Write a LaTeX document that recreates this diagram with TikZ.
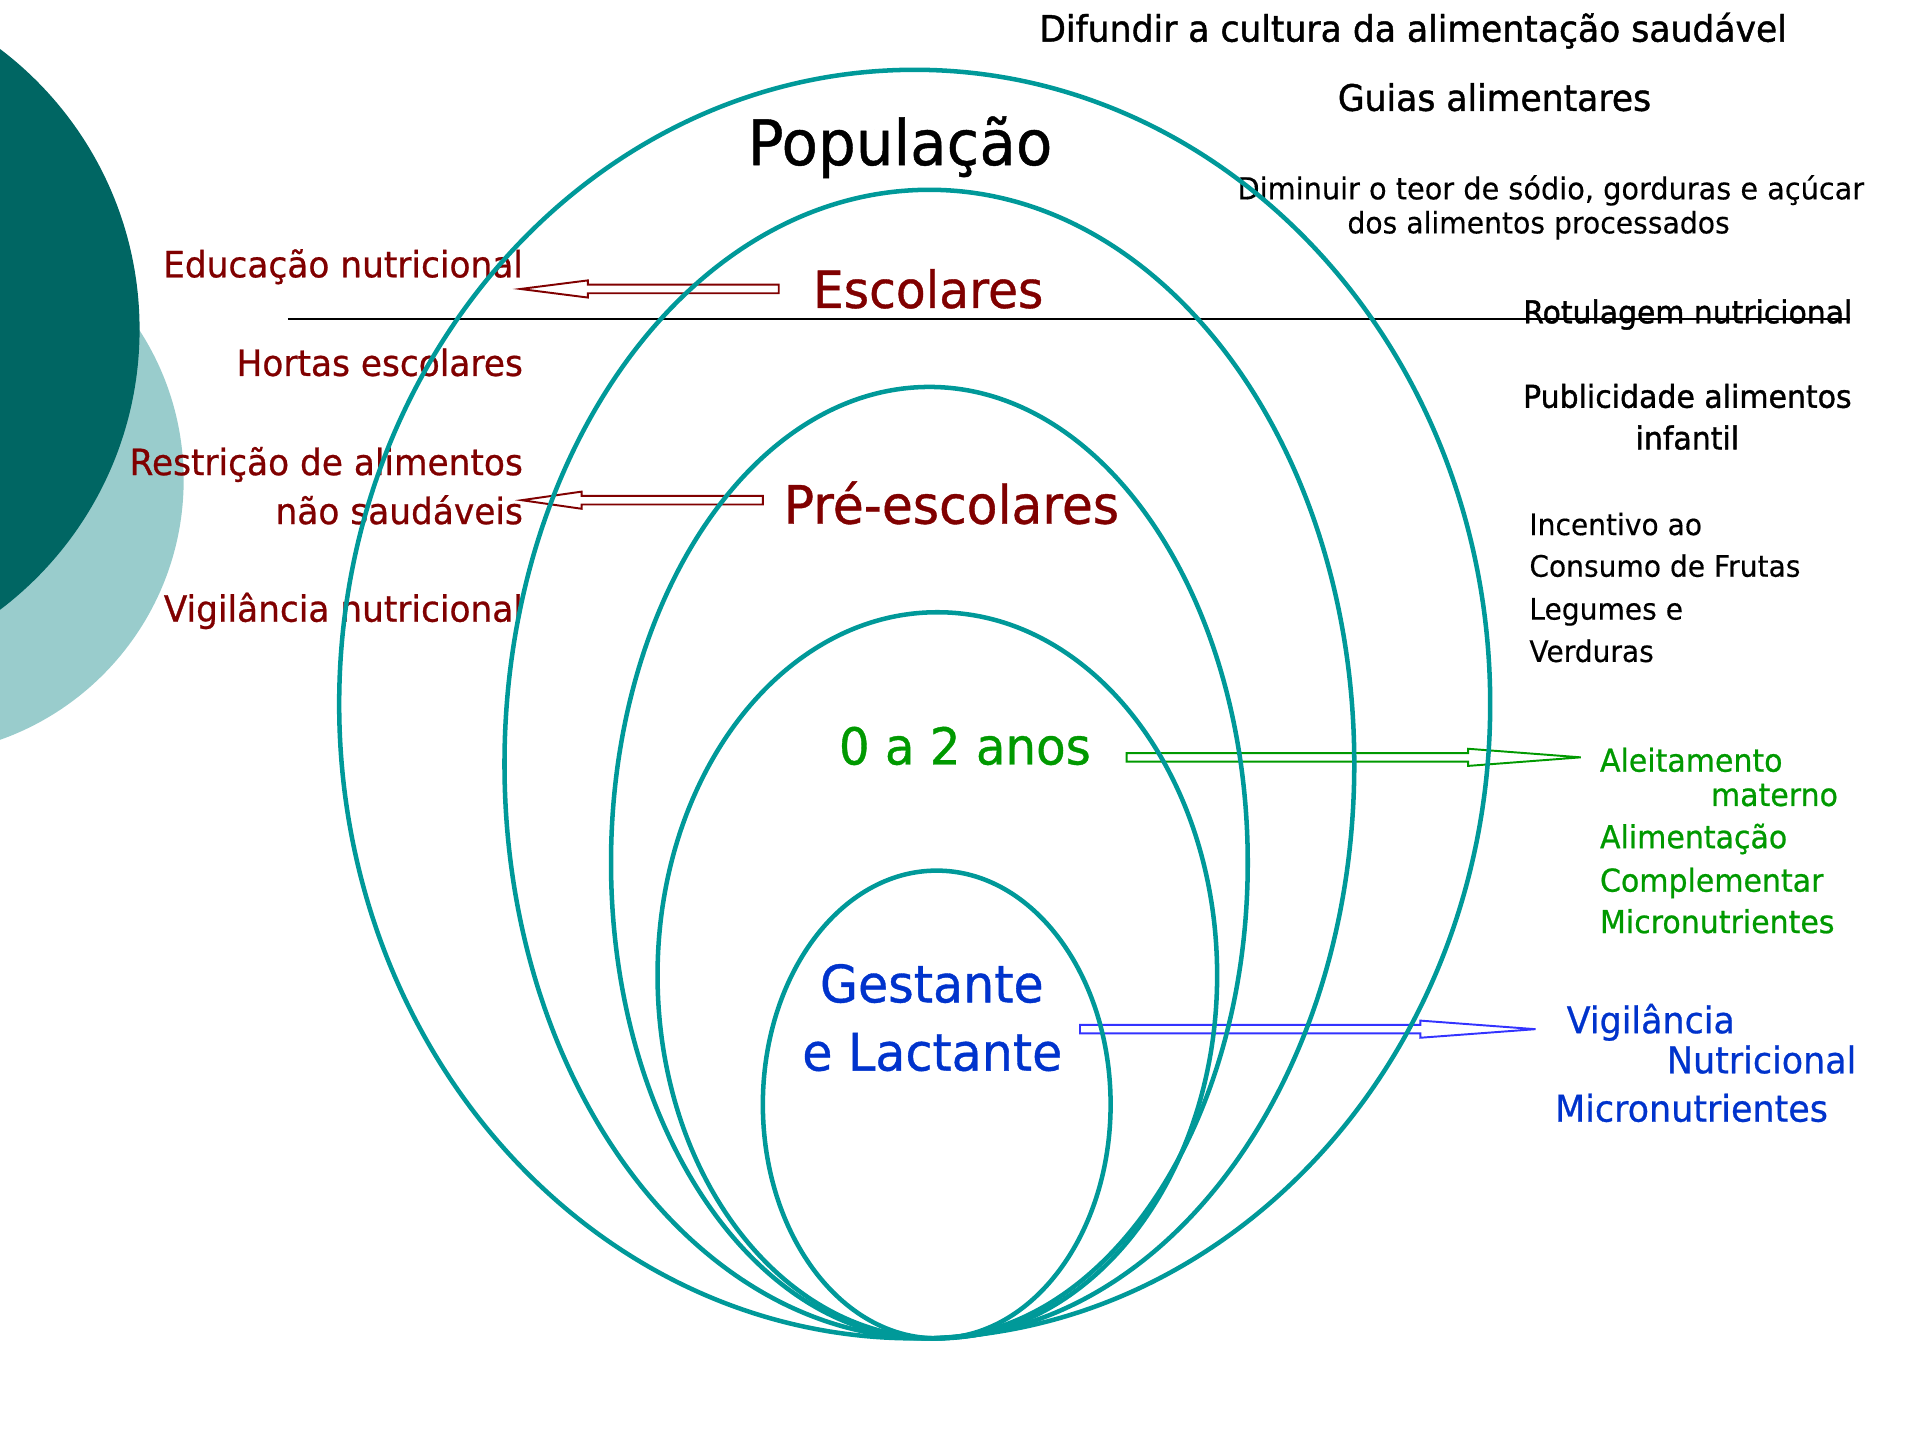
\documentclass[tikz,border=0pt]{standalone}
\usepackage{fontspec}
\setmainfont[FakeStretch=0.95, FakeBold=0.7]{DejaVu Sans}
\newfontfamily\heavyfont[FakeStretch=0.95, FakeBold=1.2]{DejaVu Sans}
\newfontfamily\lightfont[FakeStretch=0.95, FakeBold=0.3]{DejaVu Sans}
\usetikzlibrary{calc}

\definecolor{ringteal}{RGB}{0,153,153}
\definecolor{darkteal}{RGB}{0,102,99}
\definecolor{lightteal}{RGB}{153,204,204}
\definecolor{wine}{RGB}{128,0,0}
\definecolor{leafgreen}{RGB}{0,153,0}
\definecolor{deepblue}{RGB}{0,51,204}
\definecolor{arrowblue}{RGB}{51,51,255}

\newcommand{\sz}[1]{\fontsize{#1}{#1}\selectfont}

% hollow block arrow: style, tail, tip, head length
\newcommand{\hollowarrow}[4]{%
  \draw [#1] ($(#2)+(0,3.5)$) -- ($(#3)!#4!(#2)+(0,3.5)$) -- ($(#3)!#4!(#2)+(0,7)$)
    -- (#3) -- ($(#3)!#4!(#2)+(0,-7)$) -- ($(#3)!#4!(#2)+(0,-3.5)$)
    -- ($(#2)+(0,-3.5)$) -- cycle;%
}

\tikzset{
  ring/.style={ringteal, line width=1.05pt},
  txt/.style={inner sep=0pt, outer sep=0pt},
  toptext/.style={txt, black, anchor=base},
  sidetext/.style={txt, black, font=\lightfont\sz{6.87pt}, anchor=base west},
  redtext/.style={txt, wine, font=\sz{8.4pt}, anchor=base east},
  greentext/.style={txt, leafgreen, font=\sz{7.33pt}, anchor=base west},
  bluetext/.style={txt, deepblue, font=\sz{8.53pt}, anchor=base west},
  hollow/.style={line width=0.45pt, line join=miter},
}

\begin{document}
\begin{tikzpicture}[x=0.01cm, y=-0.01cm]
  \clip (0,0) rectangle (1568,1176);

  % Background discs on the left
  \fill [lightteal] (-75,392) circle (225);
  \fill [darkteal] (-173,269) circle (287);

  % Line under Escolares
  \coordinate (lineA) at (235,260.5);
  \coordinate (lineB) at (1511,260.5);
  \draw [line width=0.55pt] (lineA) -- (lineB);

  % Texts at the top right
  \node [toptext, font=\heavyfont\sz{8.45pt}] (difundir) at (1154,34) {Difundir a cultura da alimentação saudável};
  \node [toptext, font=\heavyfont\sz{8.45pt}] (guias) at (1220.5,90.5) {Guias alimentares};
  \node [toptext, font=\lightfont\sz{7.03pt}] (diminuir) at (1266.5,162.8) {Diminuir o teor de sódio, gorduras e açúcar};
  \node [toptext, font=\lightfont\sz{6.9pt}] (processados) at (1256.5,190.6) {dos alimentos processados};
  \node [sidetext, font=\heavyfont\sz{7.29pt}] (rotulagem) at (1244,264) {Rotulagem nutricional};
  \node [toptext, font=\heavyfont\sz{7.32pt}] (publicidade) at (1378,333) {Publicidade alimentos};
  \node [toptext, font=\heavyfont\sz{7.32pt}] (infantil) at (1378,367) {infantil};
  \node [sidetext] (incentivo) at (1249,437) {Incentivo ao};
  \node [sidetext] (consumo) at (1249,471) {Consumo de Frutas};
  \node [sidetext] (legumes) at (1249,506) {Legumes e};
  \node [sidetext] (verduras) at (1249,540.6) {Verduras};

  % Texts inside the rings
  \node [toptext, font=\sz{14.56pt}] (populacao) at (735,134.8) {População};
  \node [txt, wine, anchor=base, font=\sz{11.9pt}] (escolares) at (758,251.5) {Escolares};
  \node [txt, wine, anchor=base, font=\sz{12.3pt}] (preescolares) at (777,427.7) {Pré-escolares};
  \node [txt, leafgreen, anchor=base, font=\sz{11.8pt}] (anos) at (788,624.3) {0 a 2 anos};
  \node [txt, deepblue, anchor=base, font=\sz{12pt}] (gestante) at (761,818.6) {Gestante};
  \node [txt, deepblue, anchor=base, font=\sz{12pt}] (lactante) at (761.4,874.3) {e Lactante};

  % Texts on the left
  \node [redtext] (educacao) at (427,226.5) {Educação nutricional};
  \node [redtext] (hortas) at (427,307) {Hortas escolares};
  \node [redtext] (restricao) at (427,388) {Restrição de alimentos};
  \node [redtext] (naosaud) at (427,428) {não saudáveis};
  \node [redtext] (vigilancia) at (427,507.7) {Vigilância nutricional};

  % Green texts
  \node [greentext] (aleitamento) at (1306.7,630.2) {Aleitamento};
  \node [greentext, anchor=base east] (materno) at (1501,658.2) {materno};
  \node [greentext] (alimentacao) at (1306.7,692.7) {Alimentação};
  \node [greentext] (complementar) at (1306.7,728.2) {Complementar};
  \node [greentext] (micro) at (1306.7,762) {Micronutrientes};

  % Blue texts
  \node [bluetext] (vigil) at (1279.5,843.8) {Vigilância};
  \node [bluetext, anchor=base east] (nutricional) at (1516,876.5) {Nutricional};
  \node [bluetext] (microb) at (1270,916) {Micronutrientes};

  % Arrows
  \coordinate (escTail) at (636,236);
  \coordinate (escTip) at (425,236);
  \coordinate (preTail) at (623,408.5);
  \coordinate (preTip) at (426,408.5);
  \coordinate (anosTail) at (920,618.5);
  \coordinate (anosTip) at (1291,618.5);
  \coordinate (gestTail) at (882,840.5);
  \coordinate (gestTip) at (1254,840.5);
  \hollowarrow{hollow, wine}{escTail}{escTip}{0.55cm}
  \hollowarrow{hollow, wine}{preTail}{preTip}{0.49cm}
  \hollowarrow{hollow, leafgreen}{anosTail}{anosTip}{0.92cm}
  \hollowarrow{hollow, arrowblue}{gestTail}{gestTip}{0.94cm}

  % Rings
  \draw [ring] (747,575) ellipse [x radius=470, y radius=518];
  \draw [ring] (759,624) ellipse [x radius=347, y radius=469];
  \draw [ring] (759,704.5) ellipse [x radius=260, y radius=388.5];
  \draw [ring] (765.5,796.5) ellipse [x radius=228.5, y radius=296.5];
  \draw [ring] (765,902) ellipse [x radius=142, y radius=191];
\end{tikzpicture}
\end{document}
